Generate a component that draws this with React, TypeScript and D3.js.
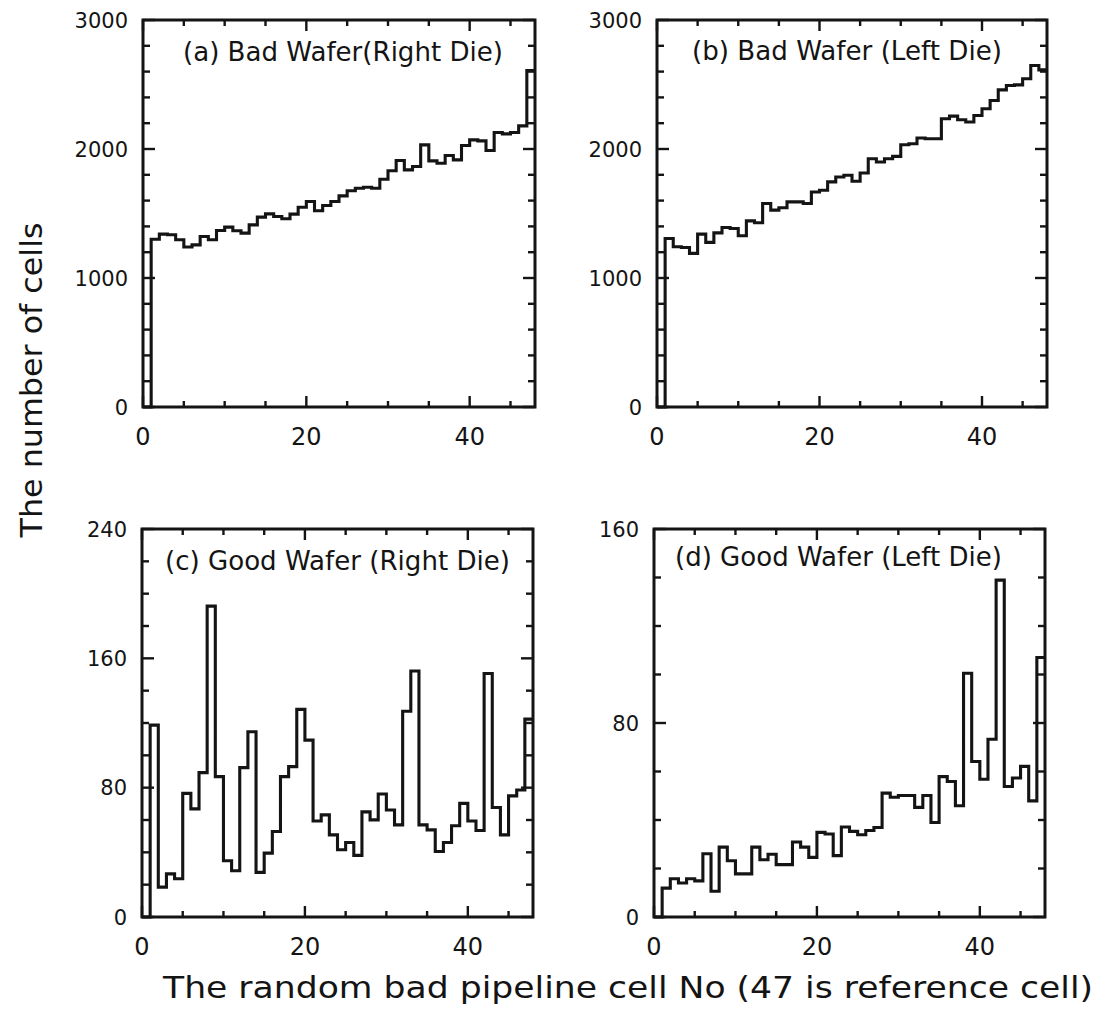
import React from 'react';
import * as d3 from 'd3';

// ---- Data (48 bins, cell number 0..47) ----
const badRight: number[] = [0, 1300, 1340, 1335, 1296, 1240, 1257, 1322, 1296, 1368, 1394, 1366, 1348, 1412, 1472, 1497, 1477, 1459, 1495, 1549, 1593, 1521, 1562, 1593, 1637, 1676, 1696, 1704, 1696, 1766, 1831, 1911, 1838, 1864, 2032, 1908, 1890, 1950, 1916, 2027, 2071, 2063, 1988, 2128, 2117, 2128, 2179, 2608];
const badLeft: number[] = [0, 1306, 1242, 1237, 1191, 1340, 1276, 1350, 1392, 1384, 1327, 1443, 1428, 1577, 1526, 1544, 1590, 1590, 1577, 1667, 1680, 1745, 1783, 1796, 1750, 1814, 1925, 1899, 1925, 1943, 2033, 2041, 2085, 2080, 2080, 2234, 2255, 2227, 2209, 2260, 2312, 2376, 2458, 2492, 2497, 2544, 2647, 2613];
const goodRight: number[] = [0, 118.7, 18.5, 26.7, 23.7, 76.5, 66.9, 89.3, 192.3, 86.8, 34.8, 28.6, 92.4, 114.6, 27.6, 39.5, 52.9, 86.8, 93, 128.4, 109.4, 59.4, 63.2, 50.8, 41.6, 46.1, 38.1, 65, 60.1, 76.1, 66.2, 57, 127.3, 152.2, 57, 53.9, 40.5, 46.1, 56.4, 70.3, 59.4, 53.5, 150.6, 67.7, 50.8, 74.9, 78.6, 122.4];
const goodLeft: number[] = [0, 11.9, 15.8, 14.0, 15.8, 14.9, 26.1, 10.6, 28.8, 23.2, 17.8, 17.8, 28.8, 23.6, 25.9, 21.6, 21.6, 30.9, 28.8, 24.6, 34.9, 34.2, 25.3, 37.1, 35.3, 33.9, 35.7, 36.9, 51.1, 49.4, 50.1, 50.1, 45.2, 50.1, 39, 57.9, 55.9, 45.9, 100.5, 64.1, 56.8, 73.3, 138.9, 53.8, 57.3, 62.1, 47.9, 107];

const titles: string[] = ['(a) Bad Wafer(Right Die)', '(b) Bad Wafer (Left Die)', '(c) Good Wafer (Right Die)', '(d) Good Wafer (Left Die)'];
const yMaxes: number[] = [3000, 3000, 240, 160];
const yMajorSteps: number[] = [1000, 1000, 80, 80];
const yMinorSteps: number[] = [200, 200, 20, 20];
const xTickLabels: number[] = [0, 20, 40];
const xMinorStep = 5;
const xDomain: [number, number] = [0, 48];
const xTitle = 'The random bad pipeline cell No (47 is reference cell)';
const yTitle = 'The number of cells';

// ---- Layout (positions / sizes) ----
const layout = [
  { x: 143, y: 20, w: 392, h: 387, tx: 183, ty: 61, tl: 320 },
  { x: 657, y: 20, w: 390, h: 387, tx: 692, ty: 60, tl: 310 },
  { x: 142, y: 529, w: 391, h: 388, tx: 165, ty: 570, tl: 345 },
  { x: 654, y: 529, w: 391, h: 388, tx: 675, ty: 566, tl: 327 },
];

const INK = '#141414';
const FONT = '"DejaVu Sans", "Liberation Sans", sans-serif';

function Panel({ idx, values }: { idx: number; values: number[] }) {
  const L = layout[idx];
  const yMax = yMaxes[idx];
  const xs = d3.scaleLinear().domain(xDomain).range([L.x, L.x + L.w]);
  const ys = d3.scaleLinear().domain([0, yMax]).range([L.y + L.h, L.y]);
  const pts: [number, number][] = values.map((v, i) => [i, v] as [number, number]);
  pts.push([values.length, values[values.length - 1]]);
  const line = d3
    .line<[number, number]>()
    .x((d) => xs(d[0]))
    .y((d) => ys(d[1]))
    .curve(d3.curveStepAfter);
  const path = line(pts) || '';

  const xMinor = d3.range(0, xDomain[1] + 0.001, xMinorStep).filter((v) => !xTickLabels.includes(v) && v > 0);
  const yMajor = d3.range(0, yMax + 0.001, yMajorSteps[idx]);
  const yMinor = d3
    .range(0, yMax + 0.001, yMinorSteps[idx])
    .filter((v) => Math.abs(v / yMajorSteps[idx] - Math.round(v / yMajorSteps[idx])) > 1e-6);

  const bottom = L.y + L.h;
  const right = L.x + L.w;
  const ticks: JSX.Element[] = [];
  const tk = (k: string, x1: number, y1: number, x2: number, y2: number) =>
    ticks.push(<line key={k} x1={x1} y1={y1} x2={x2} y2={y2} stroke={INK} strokeWidth={2.4} />);
  xTickLabels.forEach((v) => {
    const x = xs(v);
    tk('xb' + v, x, bottom, x, bottom - 11);
    tk('xt' + v, x, L.y, x, L.y + 11);
  });
  xMinor.forEach((v) => {
    const x = xs(v);
    tk('xbm' + v, x, bottom, x, bottom - 6);
    tk('xtm' + v, x, L.y, x, L.y + 6);
  });
  yMajor.forEach((v) => {
    const y = ys(v);
    tk('yl' + v, L.x, y, L.x + 12, y);
    tk('yr' + v, right, y, right - 12, y);
  });
  yMinor.forEach((v) => {
    const y = ys(v);
    tk('ylm' + v, L.x, y, L.x + 7, y);
    tk('yrm' + v, right, y, right - 7, y);
  });

  return (
    <g>
      <path d={path} fill="none" stroke={INK} strokeWidth={3.1} strokeLinejoin="miter" />
      <rect x={L.x} y={L.y} width={L.w} height={L.h} fill="none" stroke={INK} strokeWidth={3} />
      {ticks}
      {yMajor.map((v) => (
        <text key={'yt' + v} x={L.x - 15} y={ys(v)} dy="0.36em" textAnchor="end" fontSize={21} fontFamily={FONT} fill={INK}>
          {v}
        </text>
      ))}
      {xTickLabels.map((v) => (
        <text key={'xl' + v} x={xs(v)} y={bottom + 38} textAnchor="middle" fontSize={24} fontFamily={FONT} fill={INK}>
          {v}
        </text>
      ))}
      <text x={L.tx} y={L.ty} fontSize={27} fontFamily={FONT} fill={INK} textLength={L.tl} lengthAdjust="spacingAndGlyphs">
        {titles[idx]}
      </text>
    </g>
  );
}

export default function App() {
  const series = [badRight, badLeft, goodRight, goodLeft];
  return (
    <svg
      width={1100}
      height={1022}
      viewBox="0 0 1100 1022"
      style={{ position: 'absolute', left: 0, top: 0, background: '#fff' }}
    >
      <rect x={0} y={0} width={1100} height={1022} fill="#fff" />
      {series.map((s, i) => (
        <Panel key={i} idx={i} values={s} />
      ))}
      <text
        transform="translate(42,380) rotate(-90)"
        textAnchor="middle"
        fontSize={30}
        fontFamily={FONT}
        fill={INK}
        textLength={315}
        lengthAdjust="spacingAndGlyphs"
      >
        {yTitle}
      </text>
      <text x={163} y={998} fontSize={30} fontFamily={FONT} fill={INK} textLength={930} lengthAdjust="spacingAndGlyphs">
        {xTitle}
      </text>
    </svg>
  );
}
